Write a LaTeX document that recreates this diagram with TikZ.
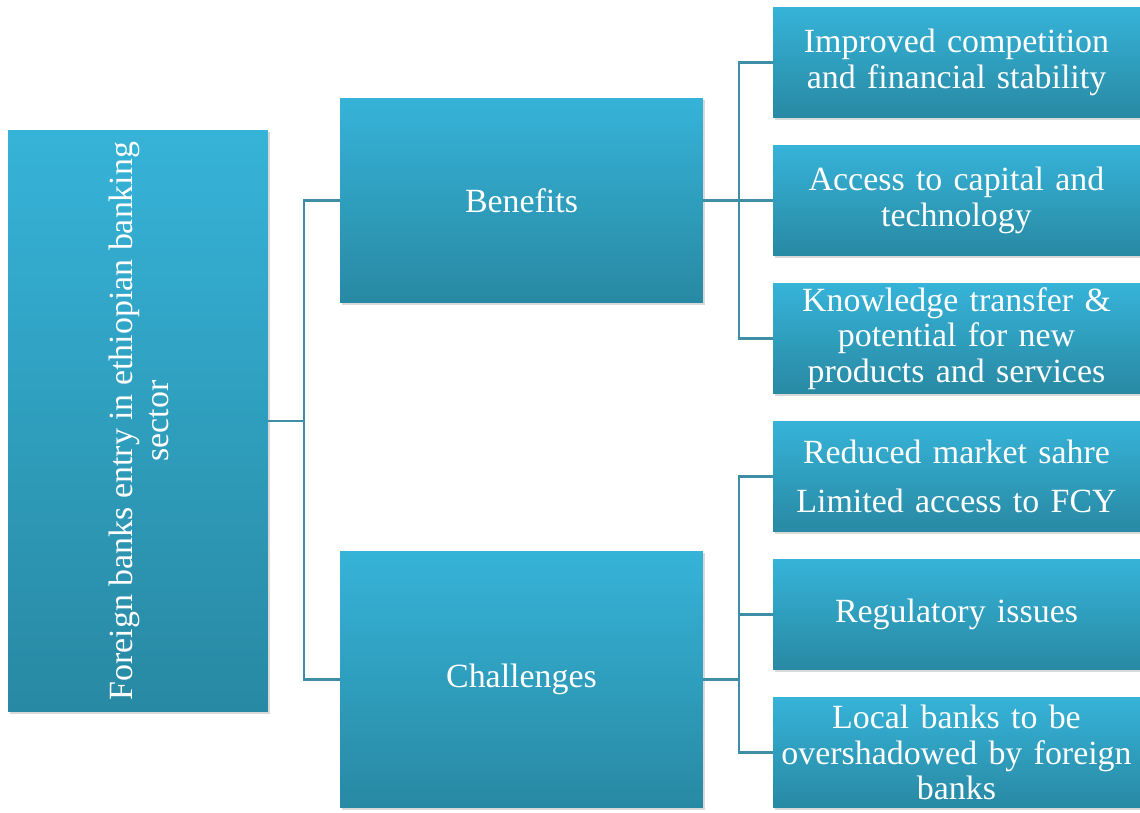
\documentclass[tikz,border=0pt]{standalone}
\usepackage{fontspec}
\setmainfont{Liberation Serif}
\definecolor{boxtop}{RGB}{54, 179, 216}
\definecolor{boxbot}{RGB}{40, 137, 163}
\definecolor{linkblue}{RGB}{62, 142, 168}
\usetikzlibrary{shadows}
\tikzstyle{block} = [rectangle, top color=boxtop, bottom color=boxbot, text=white,
    align=center, inner sep=2pt, font=\fontsize{19.3}{20.2}\selectfont,
    drop shadow={shadow xshift=1.2pt, shadow yshift=-1.2pt, opacity=0.25, fill=black!60}]
\tikzstyle{side} = [block, minimum width=7.26cm, minimum height=2.22cm, text width=7.2cm]
\tikzstyle{line} = [draw=linkblue, line width=1.2pt]

\begin{document}
\begin{tikzpicture}[x=0.02cm, y=-0.02cm]
  \useasboundingbox (0,0) rectangle (1140,812);
  % root and the two branches
  \node [block, minimum width=5.2cm, minimum height=11.64cm] (root) at (138,421) {};
  \node [rotate=90, text=white, align=center, font=\fontsize{19.3}{20.2}\selectfont] (root_text) at (139,421)
    {Foreign banks entry in ethiopian banking\\sector};
  \node [block, minimum width=7.26cm, minimum height=4.1cm] (benefits) at (521.5,200.5) {Benefits};
  \node [block, minimum width=7.26cm, minimum height=5.14cm] (challenges) at (521.5,679.5) {Challenges};
  % benefit leaves
  \node [side] (competition) at (956.5,62.5) {Improved competition\\and financial stability};
  \node [side] (capital) at (956.5,200.5) {Access to capital and\\technology};
  \node [side] (knowledge) at (956.5,338.5) {Knowledge transfer \&\\potential for new\\products and services};
  % challenge leaves
  \node [side] (market_share) at (956.5,476.5) {Reduced market sahre\\[0.28cm]Limited access to FCY};
  \node [side] (regulatory) at (956.5,614.5) {Regulatory issues};
  \node [side] (overshadow) at (956.5,752.5) {Local banks to be\\overshadowed by foreign\\banks};
  % connectors
  \path [line] (root.east) -- ++(36,0) |- (benefits.west);
  \path [line] (root.east) -- ++(36,0) |- (challenges.west);
  \path [line] (benefits.east) -- ++(36,0) |- (competition.west);
  \path [line] (benefits.east) -- (capital.west);
  \path [line] (benefits.east) -- ++(36,0) |- (knowledge.west);
  \path [line] (challenges.east) -- ++(36,0) |- (market_share.west);
  \path [line] (challenges.east) -- ++(36,0) |- (regulatory.west);
  \path [line] (challenges.east) -- ++(36,0) |- (overshadow.west);
\end{tikzpicture}
\end{document}
